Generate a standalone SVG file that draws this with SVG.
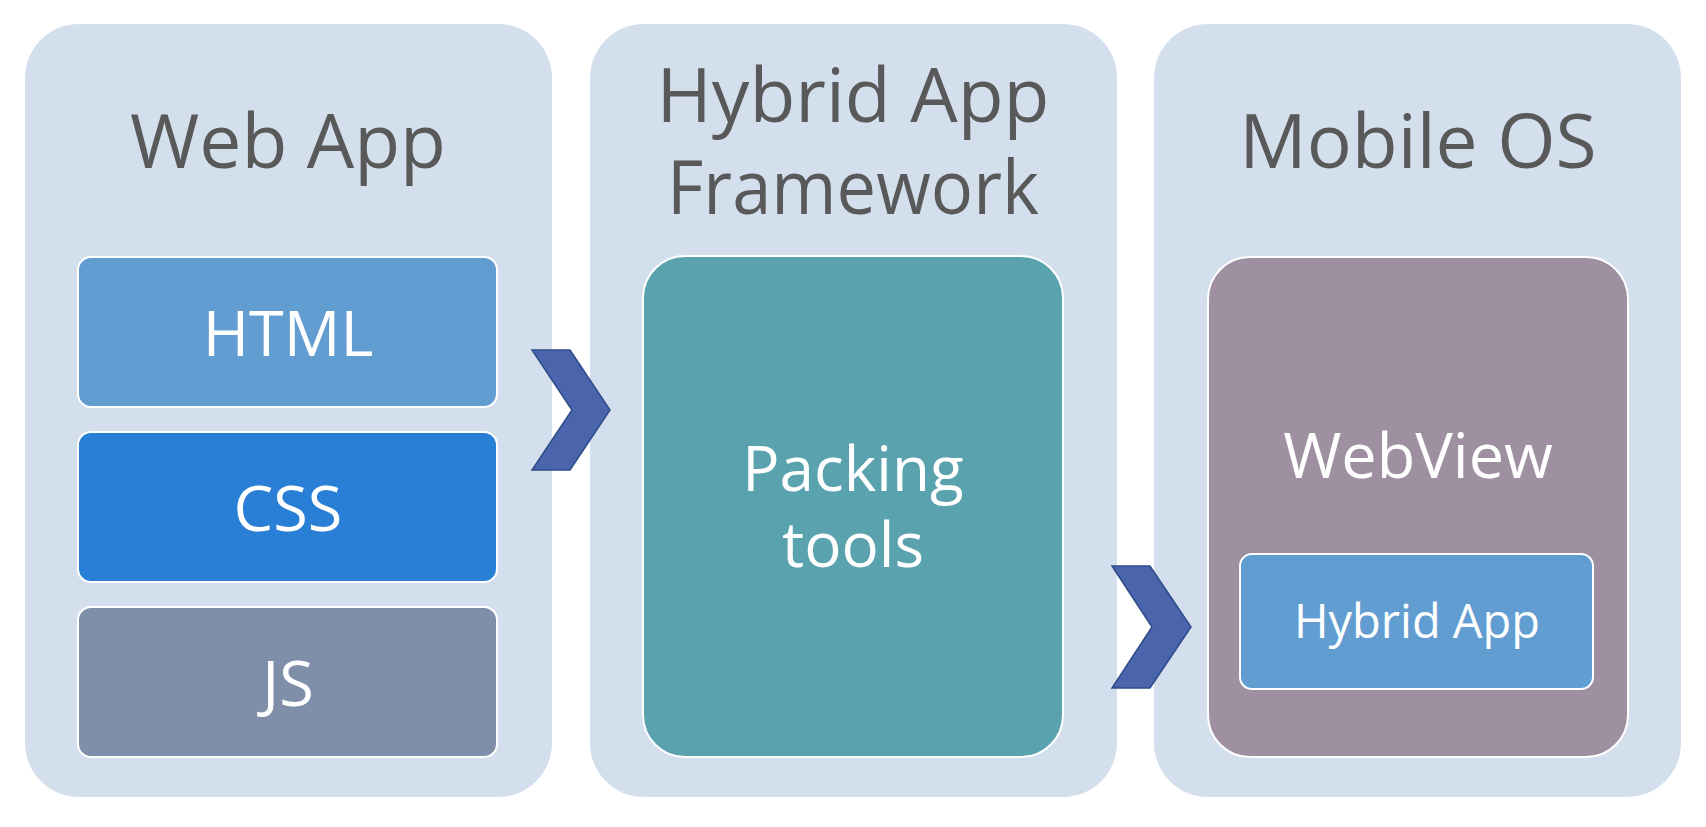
<svg xmlns="http://www.w3.org/2000/svg" width="1706" height="827" viewBox="0 0 1706 827">
<style>
.outer{fill:#D4DFEE}
.inner{stroke:#FFFFFF;stroke-width:2}
.title{font-family:"Open Sans","Noto Sans","Liberation Sans",sans-serif;font-size:75px;fill:#595959;text-anchor:middle}
.lbl{font-family:"Open Sans","Noto Sans","Liberation Sans",sans-serif;fill:#FFFFFF;text-anchor:middle}
.chev{fill:#4A65AC;stroke:#2F4B8A;stroke-width:1.5;stroke-linejoin:miter}
</style>
<rect width="1706" height="827" fill="#FFFFFF"/>
<g id="webapp">
<rect class="outer" x="25" y="24" width="527" height="773" rx="54" ry="54"/>
<text class="title" x="288" y="168">Web App</text>
</g>
<g id="html">
<rect class="inner" x="78" y="257" width="419" height="150" rx="13" fill="#629DD1"/>
<text class="lbl" x="288" y="356" font-size="63">HTML</text>
</g>
<g id="css">
<rect class="inner" x="78" y="432" width="419" height="150" rx="13" fill="#297FD5"/>
<text class="lbl" x="288" y="531" font-size="63">CSS</text>
</g>
<g id="js">
<rect class="inner" x="78" y="607" width="419" height="150" rx="13" fill="#7F8FA9"/>
<text class="lbl" x="288" y="706" font-size="63">JS</text>
</g>
<g id="framework">
<rect class="outer" x="590" y="24" width="527" height="773" rx="54" ry="54"/>
<text class="title" x="853" y="122">Hybrid App</text>
<text class="title" x="853" y="214" textLength="372" lengthAdjust="spacingAndGlyphs">Framework</text>
</g>
<g id="packing">
<rect class="inner" x="643" y="256" width="420" height="501" rx="42" fill="#5AA2AE"/>
<text class="lbl" x="853" y="491" font-size="62">Packing</text>
<text class="lbl" x="853" y="567" font-size="62">tools</text>
</g>
<g id="mobileos">
<rect class="outer" x="1154" y="24" width="527" height="773" rx="54" ry="54"/>
<text class="title" x="1418" y="168">Mobile OS</text>
</g>
<g id="webview">
<rect class="inner" x="1208" y="257" width="420" height="500" rx="42" fill="#9E90A1"/>
<text class="lbl" x="1418" y="478" font-size="63">WebView</text>
</g>
<g id="hybridapp">
<rect class="inner" x="1240" y="554" width="353" height="135" rx="12" fill="#629DD1"/>
<text class="lbl" x="1417" y="638" font-size="47">Hybrid App</text>
</g>
<g id="connectors">
<polygon class="chev" points="532,350 570,350 610,410 570,470 532,470 572,410"/>
<polygon class="chev" points="1112,566 1150,566 1191,627 1150,688 1112,688 1152,627"/>
</g>
</svg>
